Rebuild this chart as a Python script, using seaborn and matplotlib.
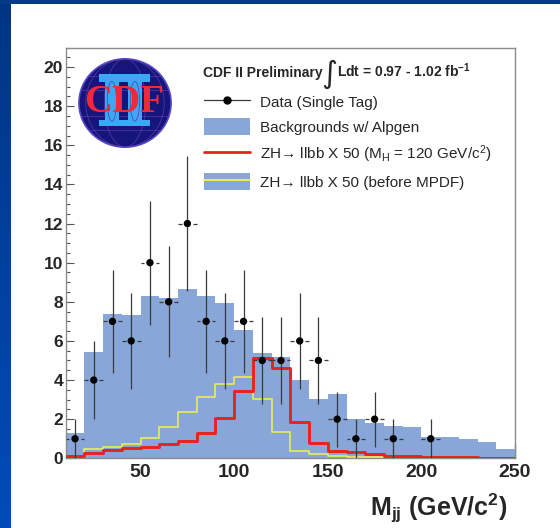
import numpy as np
import pandas as pd
import matplotlib
matplotlib.use("Agg")
import matplotlib.pyplot as plt
import seaborn as sns
from matplotlib.patches import Ellipse, Rectangle, Patch
from matplotlib.lines import Line2D
from matplotlib.legend_handler import HandlerTuple
from matplotlib.colors import LinearSegmentedColormap
from matplotlib.ticker import MultipleLocator

# ---- histogram binning (GeV/c^2) ----
bin_edges = list(range(10, 251, 10))
bin_centers = [e + 5 for e in bin_edges[:-1]]

# expected background (Alpgen), events per bin
background = [1.31, 5.44, 7.40, 7.34, 8.29, 8.17, 8.66, 8.32, 7.95, 6.57,
              5.36, 5.16, 3.98, 3.03, 3.27, 2.01, 1.83, 1.63, 1.62, 1.10,
              1.07, 0.97, 0.83, 0.45]

# ZH -> llbb signal x 50, M_H = 120 GeV/c^2
signal_mh120 = [0.12, 0.25, 0.42, 0.51, 0.59, 0.71, 0.90, 1.31, 2.04, 3.44,
                5.12, 4.63, 1.87, 0.77, 0.39, 0.31, 0.22, 0.12, 0.10, 0.08,
                0.06, 0.05, 0.04, 0.03]

# ZH -> llbb signal x 50, before MPDF
signal_before = [0.08, 0.46, 0.59, 0.73, 1.02, 1.61, 2.35, 3.15, 3.79, 4.17,
                 3.01, 1.32, 0.35, 0.24, 0.14, 0.08, 0.05, 0.03, 0.02, 0.01,
                 0.01, 0.0, 0.0, 0.0]

# observed single-tag events (non-empty bins)
data_mass = [15, 25, 35, 45, 55, 65, 75, 85, 95, 105, 115, 125, 135, 145,
             155, 165, 175, 185, 205]
data_counts = [1, 4, 7, 6, 10, 8, 12, 7, 6, 7, 5, 5, 6, 5, 2, 1, 2, 1, 1]

x_ticks = [50, 100, 150, 200, 250]
y_ticks = list(range(0, 21, 2))

hist_df = pd.DataFrame({
    "mass": bin_centers,
    "background": background,
    "signal_mh120": signal_mh120,
    "signal_before": signal_before,
})
data_df = pd.DataFrame({"mass": data_mass, "events": data_counts})

BG_COLOR = "#88a6d8"
RED = "#e8221e"
YELLOW = "#ecec55"

sns.set_style("ticks")
plt.rcParams["font.family"] = ["Liberation Sans", "DejaVu Sans"]
plt.rcParams["mathtext.fontset"] = "custom"
plt.rcParams["mathtext.rm"] = "Liberation Sans"
plt.rcParams["mathtext.it"] = "Liberation Sans:italic"
plt.rcParams["mathtext.bf"] = "Liberation Sans:bold"

W, H = 560, 528
fig = plt.figure(figsize=(W / 100, H / 100), dpi=100)
fig.patch.set_facecolor("white")

def fx(px):
    return px / W

def fy(py):
    return 1 - py / H

# slide frame: dark blue bands on the left and top
band = fig.add_axes([0, 0, fx(11), 1])
grad = np.linspace(0, 1, 256).reshape(-1, 1)
band.imshow(grad, aspect="auto",
            cmap=LinearSegmentedColormap.from_list("band", ["#003584", "#004cb8"]))
band.axis("off")
fig.patches.append(Rectangle((0, fy(4)), 1, 4 / H, transform=fig.transFigure,
                             facecolor="#063a8a", edgecolor="none", zorder=0))

ax = fig.add_axes([fx(65.7), fy(458.3), fx(515) - fx(65.7), fy(47.5) - fy(458.3)])
ax.set_facecolor("white")

sns.histplot(data=hist_df, x="mass", weights="background", bins=bin_edges,
             element="step", fill=True, color=BG_COLOR, alpha=1, linewidth=0, ax=ax)
sns.histplot(data=hist_df, x="mass", weights="signal_before", bins=bin_edges,
             element="step", fill=False, color=YELLOW, linewidth=1.2, ax=ax, zorder=3)
sns.histplot(data=hist_df, x="mass", weights="signal_mh120", bins=bin_edges,
             element="step", fill=False, color=RED, linewidth=2.1, ax=ax, zorder=4)

# data with Poisson error bars and bin-width bars split around the marker
dm = data_df["mass"].to_numpy(dtype=float)
dc = data_df["events"].to_numpy(dtype=float)
derr = np.sqrt(dc)
half = 5.0
gap = 3.0
ax.vlines(dm, dc - derr, dc + derr, color="#3a3a3a", linewidth=0.9, zorder=5)
ax.hlines(dc, dm - half, dm - gap, color="#3a3a3a", linewidth=0.9, zorder=5)
ax.hlines(dc, dm + gap, dm + half, color="#3a3a3a", linewidth=0.9, zorder=5)
sns.scatterplot(data=data_df, x="mass", y="events", color="black", s=28,
                edgecolor="none", zorder=6, ax=ax)

ax.set_xlim(10, 250)
ax.set_ylim(0, 21)
ax.set_xlabel("")
ax.set_ylabel("")
ax.set_xticks(x_ticks)
ax.set_xticklabels([str(t) for t in x_ticks])
ax.set_yticks(y_ticks)
ax.set_yticklabels([str(t) for t in y_ticks])
ax.yaxis.set_minor_locator(MultipleLocator(0.5))
ax.tick_params(axis="y", which="major", direction="in", length=5.5, width=0.8,
               color="#555555", pad=2)
ax.tick_params(axis="y", which="minor", direction="in", length=3, width=0.8,
               color="#555555")
ax.tick_params(axis="x", which="major", direction="in", length=10, width=0.9,
               color="#444444", pad=4)
for lab in ax.get_yticklabels():
    lab.set_fontsize(12.5)
    lab.set_fontweight("bold")
for lab in ax.get_xticklabels():
    lab.set_fontsize(14)
    lab.set_fontweight("bold")
for sp in ax.spines.values():
    sp.set_visible(True)
    sp.set_color("#8c8c8c")
    sp.set_linewidth(1.0)

# header
fig.text(fx(203), fy(76.7), "CDF II Preliminary", fontsize=10, fontweight="bold",
         ha="left", va="baseline")
fig.text(fx(329.5), fy(74), "\u222b", fontsize=22, family="DejaVu Sans",
         ha="center", va="center")
fig.text(fx(336.7), fy(76.7), r"Ldt = 0.97 - 1.02 fb$^{\mathbf{-1}}$", fontsize=10,
         fontweight="bold", ha="left", va="baseline")

# legend
handles = [
    Line2D([], [], color="#3a3a3a", linewidth=0.9, marker="o", markersize=5,
           markerfacecolor="black", markeredgecolor="black"),
    Patch(facecolor=BG_COLOR, edgecolor="none"),
    Line2D([], [], color=RED, linewidth=2.0),
    (Patch(facecolor=BG_COLOR, edgecolor="none"), Line2D([], [], color=YELLOW, linewidth=1.5)),
]
labels = [
    "Data (Single Tag)",
    "Backgrounds w/ Alpgen",
    "ZH\u2192 llbb X 50 (M$_{\\rm H}$ = 120 GeV/c$^{2}$)",
    "ZH\u2192 llbb X 50 (before MPDF)",
]
ax.legend(handles, labels, loc="upper left", bbox_to_anchor=(fx(204), fy(92.8)),
          bbox_transform=fig.transFigure, frameon=False, borderpad=0,
          borderaxespad=0, handlelength=3.0, handleheight=1.37,
          handletextpad=0.65, labelspacing=0.52, numpoints=1, fontsize=11,
          handler_map={tuple: HandlerTuple(ndivide=1, pad=0)})

# axis title
fig.text(fx(507), fy(516), r"$\mathbf{M}_{\mathbf{jj}}$ (GeV/c$^{\mathbf{2}}$)",
         fontsize=18, fontweight="bold", ha="right", va="baseline")

# experiment logo: globe with the roman numeral and the experiment name
lg = fig.add_axes([fx(78), fy(148), fx(94), 90 / H])
lg.set_xlim(-1.02, 1.02)
lg.set_ylim(-1.02, 1.02)
lg.axis("off")
globe = Ellipse((0, 0), 2, 2, facecolor="#15157c", edgecolor="#5a48c8",
                linewidth=1.2, zorder=1)
lg.add_patch(globe)
grid_kw = dict(color="#5a3aa8", linewidth=0.5, zorder=2)
for yy in (-0.62, -0.3, 0.3, 0.62):
    hw = np.sqrt(1 - yy ** 2)
    lg.plot([-hw, hw], [yy, yy], **grid_kw)
for ww in (0.45, 0.85):
    lg.add_patch(Ellipse((0, 0), 2 * ww, 2, fill=False, edgecolor="#5a3aa8",
                         linewidth=0.5, zorder=2))
roman_c = "#3aa8f5"
for (x0, y0, w, h) in [(-0.57, 0.48, 1.11, 0.17), (-0.57, -0.53, 1.11, 0.15),
                       (-0.43, -0.40, 0.29, 0.90), (0.07, -0.40, 0.29, 0.90)]:
    lg.add_patch(Rectangle((x0, y0), w, h, facecolor=roman_c, edgecolor="none",
                           zorder=3))
for cx in (-0.285, 0.215):
    lg.add_patch(Ellipse((cx, 0.04), 0.2, 0.9, fill=False, edgecolor="#5a3aa8",
                         linewidth=0.5, zorder=4))
lg.text(-0.02, -0.2, "CDF", fontsize=28, family="Liberation Serif",
        fontweight="bold", color="#f0283c", ha="center", va="baseline", zorder=5)

fig.savefig("out.png", dpi=100)
